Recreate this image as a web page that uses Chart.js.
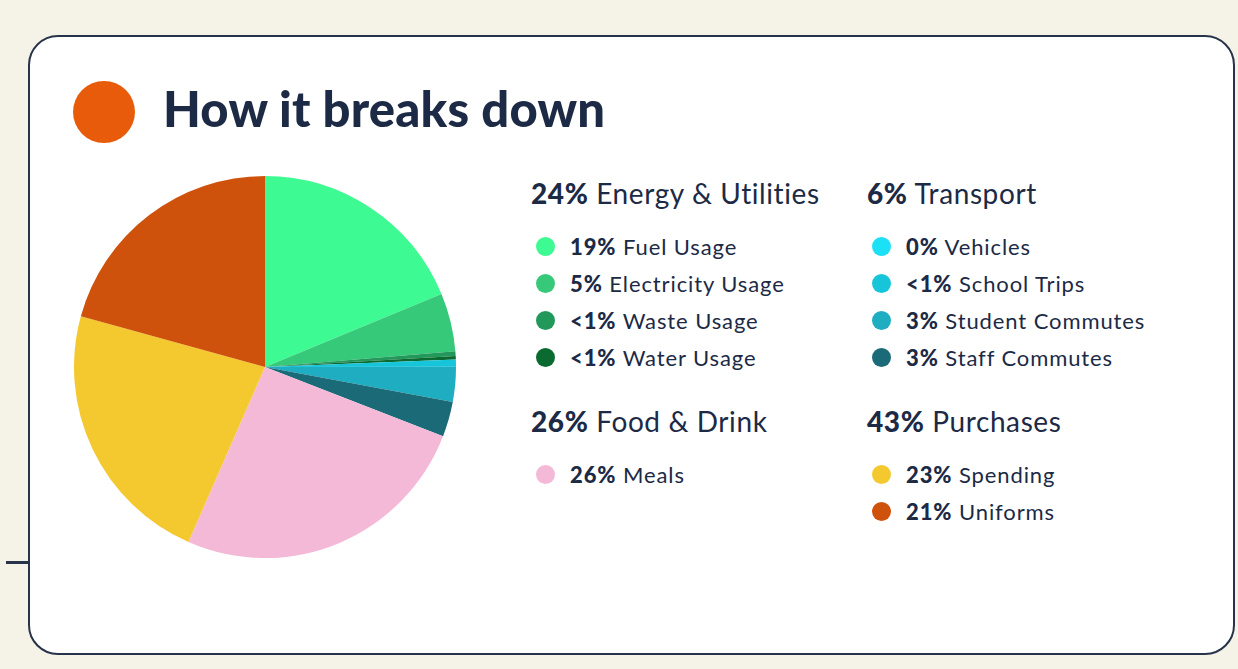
<!DOCTYPE html>
<html>
<head>
<meta charset="utf-8">
<script src="https://cdn.jsdelivr.net/npm/chart.js@4.4.1/dist/chart.umd.min.js"></script>
<style>
  html, body { margin: 0; padding: 0; }
  body { width: 1238px; height: 669px; background: #f5f3e7; font-family: Lato, "Noto Sans", sans-serif; color: #1c2a45; position: relative; overflow: hidden; }
  .card { position: absolute; left: 28px; top: 35px; width: 1203px; height: 616px; background: #fff; border: 2px solid #27334a; border-radius: 30px; }
  .stub { position: absolute; left: 6px; top: 561px; width: 22px; height: 3px; background: #27334a; }
  .dot-big { position: absolute; left: 73px; top: 81px; width: 62px; height: 62px; border-radius: 50%; background: #e75b0b; }
  h1 { position: absolute; left: 163px; top: 76px; margin: 0; font-size: 49px; font-weight: 900; line-height: 64px; color: #1c2a45; letter-spacing: 0.2px; }
  #pieWrap { position: absolute; left: 74px; top: 176px; width: 382px; height: 382px; }
  .group { position: absolute; }
  .ghead { font-size: 28px; line-height: 34px; white-space: nowrap; letter-spacing: 0.6px; }
  .ghead b, .item b { font-weight: 900; }
  .item { position: relative; height: 37px; line-height: 37px; font-size: 22px; padding-left: 39px; white-space: nowrap; letter-spacing: 0.9px; }
  .item .sw { position: absolute; left: 5px; top: 9px; width: 19px; height: 19px; border-radius: 50%; }
  .items { margin-top: 18px; }
</style>
</head>
<body>
<div class="card"></div>
<div class="stub"></div>
<div class="dot-big"></div>
<h1>How it breaks down</h1>
<div id="pieWrap"><canvas id="pie"></canvas></div>
<div id="legend"></div>
<script>
// groups
const groupNames = ["Energy & Utilities", "Transport", "Food & Drink", "Purchases"];
const groupPct = ["24%", "6%", "26%", "43%"];

// slices, clockwise from 12 o'clock
const labels = ["Fuel Usage", "Electricity Usage", "Waste Usage", "Water Usage",
  "Vehicles", "School Trips", "Student Commutes", "Staff Commutes",
  "Meals", "Spending", "Uniforms"];
const pctLabels = ["19%", "5%", "<1%", "<1%", "0%", "<1%", "3%", "3%", "26%", "23%", "21%"];
const values = [19, 5, 0.4, 0.3, 0, 0.6, 3, 3, 26, 23, 21];
const groupOf = [0, 0, 0, 0, 1, 1, 1, 1, 2, 3, 3];
const colors = ["#3efa92", "#37c97a", "#22995a", "#0b6a30",
  "#1ce0f5", "#17c5db", "#1fadc1", "#1b6a77",
  "#f4b9d7", "#f3c92f", "#cf520c"];

// legend blocks (left, top of header)
const groupPos = [[531, 176], [867, 176], [531, 404], [867, 404]];

var legend = document.getElementById("legend");
for (var g = 0; g < groupNames.length; g++) {
  var div = document.createElement("div");
  div.className = "group";
  div.style.left = groupPos[g][0] + "px";
  div.style.top = groupPos[g][1] + "px";
  var html = '<div class="ghead"><b>' + groupPct[g] + '</b> ' + groupNames[g].replace("&", "&amp;") + '</div><div class="items">';
  for (var i = 0; i < labels.length; i++) {
    if (groupOf[i] !== g) continue;
    html += '<div class="item"><span class="sw" style="background:' + colors[i] + '"></span><b>' +
      pctLabels[i].replace("<", "&lt;") + '</b> ' + labels[i] + '</div>';
  }
  html += '</div>';
  div.innerHTML = html;
  legend.appendChild(div);
}

new Chart(document.getElementById("pie"), {
  type: "pie",
  data: {
    labels: labels,
    datasets: [{
      data: values,
      backgroundColor: colors,
      borderWidth: 0
    }]
  },
  options: {
    responsive: true,
    maintainAspectRatio: false,
    animation: false,
    layout: { padding: 0 },
    plugins: {
      legend: { display: false },
      tooltip: { enabled: false }
    }
  }
});
</script>
</body>
</html>
